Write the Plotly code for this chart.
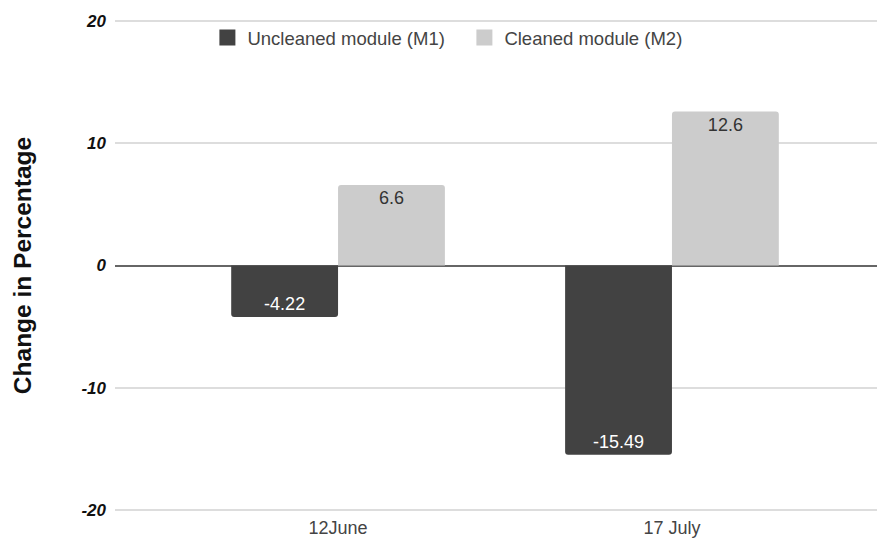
import plotly.graph_objects as go

categories = ["12June", "17 July"]
m1_values = [-4.22, -15.49]
m2_values = [6.6, 12.6]
m1_name = "Uncleaned module (M1)"
m2_name = "Cleaned module (M2)"
y_ticks = [-20, -10, 0, 10, 20]
y_tick_text = ["-20", "-10", "0", "10", "20"]

M1_COLOR = "#424242"
M2_COLOR = "#cccccc"
FONT = "Liberation Sans, Arial"

fig = go.Figure()
fig.add_bar(x=categories, y=m1_values, name=m1_name, showlegend=False,
            marker=dict(color=M1_COLOR, line=dict(width=0)),
            text=[f"{v:g}" for v in m1_values], textposition="inside",
            insidetextanchor="end", textangle=0,
            textfont=dict(color="white", size=18, family=FONT))
fig.add_bar(x=categories, y=m2_values, name=m2_name, showlegend=False,
            marker=dict(color=M2_COLOR, line=dict(width=0)),
            text=[f"{v:g}" for v in m2_values], textposition="inside",
            insidetextanchor="end", textangle=0,
            textfont=dict(color="#333333", size=18, family=FONT))
# legend entries with larger square swatches
for name, color in [(m1_name, M1_COLOR), (m2_name, M2_COLOR)]:
    fig.add_scatter(x=[None], y=[None], mode="markers", name=name,
                    marker=dict(symbol="square", size=17, color=color))

fig.update_layout(
    width=877, height=532,
    margin=dict(l=107, r=0, t=12, b=29),
    plot_bgcolor="white", paper_bgcolor="white",
    barmode="group", bargap=0.36, bargroupgap=0,
    barcornerradius=3,
    font=dict(family=FONT, color="#444444"),
    legend=dict(orientation="h", x=0.12, y=1.002, xanchor="left", yanchor="top",
                font=dict(size=18.5, color="#444444"), bgcolor="rgba(0,0,0,0)",
                traceorder="normal", itemsizing="trace",
                entrywidth=212, entrywidthmode="pixels"),
    xaxis=dict(range=[-0.668, 1.638], showgrid=False, showline=False,
               ticks="", ticklabelstandoff=4,
               tickfont=dict(size=18, color="#444444")),
    yaxis=dict(range=[-20.1, 20.1], tickvals=y_ticks, ticktext=y_tick_text,
               showgrid=True, gridcolor="#dddddd", gridwidth=2,
               zeroline=True, zerolinecolor="#666666", zerolinewidth=2,
               tickfont=dict(size=17, color="#111111", family=FONT,
                             weight="bold", style="italic"),
               ticklabelstandoff=8,
               title=dict(text="Change in Percentage", standoff=42,
                          font=dict(size=24.5, color="#111111", weight="bold"))),
)

fig.write_html("out.html")
